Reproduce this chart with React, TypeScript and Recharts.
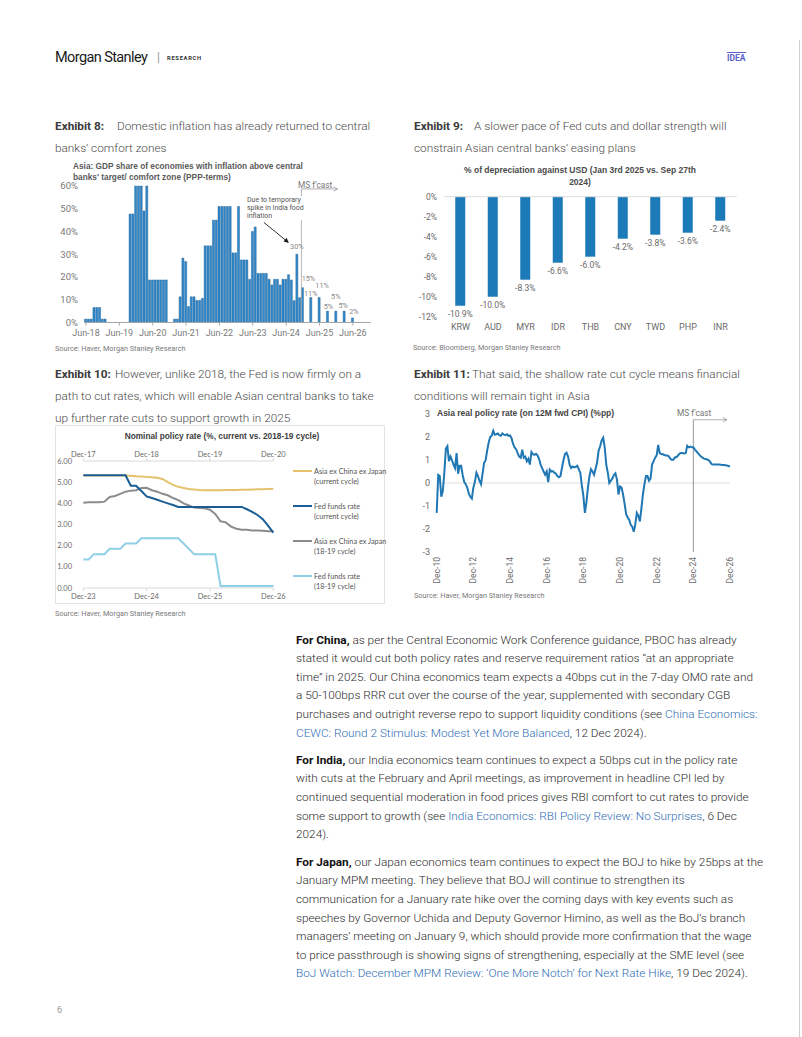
import React from 'react';
import { BarChart, Bar, LineChart, Line, XAxis, YAxis, ReferenceLine, LabelList } from 'recharts';

const MON = ['Jan', 'Feb', 'Mar', 'Apr', 'May', 'Jun', 'Jul', 'Aug', 'Sep', 'Oct', 'Nov', 'Dec'];
function monthSeq(startYear: number, startMonth: number, count: number): string[] {
  const out: string[] = [];
  for (let i = 0; i < count; i++) {
    const t = startMonth + i;
    const yr = startYear + Math.floor(t / 12);
    out.push(MON[t % 12] + '-' + String(yr % 100).padStart(2, '0'));
  }
  return out;
}

// ---------------- Exhibit 8 data ----------------
const EX8_MONTHS = monthSeq(2018, 5, 103);
const EX8_TICKS = ['Jun-18', 'Jun-19', 'Jun-20', 'Jun-21', 'Jun-22', 'Jun-23', 'Jun-24', 'Jun-25', 'Jun-26'];
const EX8_Y_TICKS = [0, 10, 20, 30, 40, 50, 60];
const EX8_SHARE: (number | null)[] = [
  1.5, 1.5, 1.5, 6.6, 6.6, 6.6, 1.5, 1.5, 0, 0,
  0, 0, 0, 0, 0, 0, 47.7, 47.7, 60, 60,
  60, 49, 60, 18.7, 18.7, 18.7, 18.7, 18.7, 18.7, 18.7,
  0, 0, 1.5, 1.5, 11.3, 28.3, 26.8, 7, 11.3, 11.3,
  9.7, 9.7, 10.6, 33.7, 33.7, 33.7, 45, 45, 51, 51,
  51, 51, 51, 30.6, 30.6, 51, 27.5, 27.5, 27.5, 19,
  40, 42, 21.6, 21.6, 21.6, 21.6, 19, 16.5, 19, 19,
  16.5, 19, 19, 21, 18.7, 9.6, 30, 10.9, 15.3, null,
  null, 11, null, null, 11, null, null, 5, null, null,
  5, null, null, 5, null, null, 2, null, null, 0,
  null, null, null,
];
const EX8_LABELS: Record<string, string> = {
  'Oct-24': '30%', 'Dec-24': '15%', 'Mar-25': '11%', 'Jun-25': '11%', 'Sep-25': '5%',
  'Dec-25': '5%', 'Mar-26': '5%', 'Jun-26': '2%', 'Sep-26': '0%',
};
// label nudges (style only)
const EX8_LABEL_NUDGE: Record<string, [number, number]> = {
  'Oct-24': [0, -8], 'Dec-24': [6, -9], 'Mar-25': [0, -4], 'Jun-25': [3, -12], 'Sep-25': [1, -5],
  'Dec-25': [0, -14.5], 'Mar-26': [-1, -6], 'Jun-26': [1.5, -6], 'Sep-26': [3.5, -7.5],
};

// ---------------- Exhibit 9 data ----------------
const EX9_CURRENCIES = ['KRW', 'AUD', 'MYR', 'IDR', 'THB', 'CNY', 'TWD', 'PHP', 'INR'];
const EX9_DEPRECIATION = [-10.9, -10.0, -8.3, -6.6, -6.0, -4.2, -3.8, -3.6, -2.4];
const EX9_Y_TICKS = [0, -2, -4, -6, -8, -10, -12];

// ---------------- Exhibit 10 data ----------------
const EX10_TOP_MONTHS = monthSeq(2017, 11, 37);
const EX10_BOTTOM_MONTHS = monthSeq(2023, 11, 37);
const EX10_TOP_TICKS = ['Dec-17', 'Dec-18', 'Dec-19', 'Dec-20'];
const EX10_BOTTOM_TICKS = ['Dec-23', 'Dec-24', 'Dec-25', 'Dec-26'];
const EX10_Y_TICKS = [0, 1, 2, 3, 4, 5, 6];
const EX10_ASIA_CURRENT = [
  5.32, 5.32, 5.32, 5.32, 5.32, 5.32, 5.32, 5.32, 5.32, 5.3,
  5.28, 5.27, 5.25, 5.23, 5.21, 5.15, 5.0, 4.87, 4.78, 4.72,
  4.68, 4.65, 4.63, 4.62, 4.62, 4.62, 4.62, 4.63, 4.63, 4.63,
  4.64, 4.64, 4.65, 4.66, 4.67, 4.68, 4.69,
];
const EX10_FED_CURRENT = [
  5.33, 5.33, 5.33, 5.33, 5.33, 5.33, 5.33, 5.33, 5.33, 4.83,
  4.83, 4.58, 4.33, 4.25, 4.17, 4.08, 4.0, 3.92, 3.83, 3.83,
  3.83, 3.83, 3.83, 3.83, 3.83, 3.83, 3.83, 3.83, 3.83, 3.83,
  3.83, 3.72, 3.6, 3.45, 3.25, 2.95, 2.62,
];
const EX10_ASIA_1819 = [
  4.03, 4.05, 4.05, 4.05, 4.08, 4.3, 4.35, 4.45, 4.55, 4.6,
  4.62, 4.72, 4.73, 4.62, 4.55, 4.45, 4.38, 4.25, 4.15, 4.0,
  3.9, 3.8, 3.78, 3.77, 3.7, 3.5, 3.15, 3.1, 2.9, 2.8,
  2.75, 2.75, 2.72, 2.72, 2.7, 2.68, 2.68,
];
const EX10_FED_1819 = [
  1.35, 1.35, 1.6, 1.6, 1.6, 1.85, 1.85, 1.85, 2.1, 2.1,
  2.1, 2.35, 2.35, 2.35, 2.35, 2.35, 2.35, 2.35, 2.35, 2.1,
  1.85, 1.6, 1.6, 1.6, 1.6, 1.6, 0.1, 0.1, 0.1, 0.1,
  0.1, 0.1, 0.1, 0.1, 0.1, 0.1, 0.1,
];
const EX10_SERIES = [
  { key: 'asiaCur', name1: 'Asia ex China ex Japan', name2: '(current cycle)', color: '#E3C26B' },
  { key: 'fedCur', name1: 'Fed funds rate', name2: '(current cycle)', color: '#1B5E96' },
  { key: 'asia1819', name1: 'Asia ex China ex Japan', name2: '(18-19 cycle)', color: '#8C8C8C' },
  { key: 'fed1819', name1: 'Fed funds rate', name2: '(18-19 cycle)', color: '#8FCFE6' },
];

// ---------------- Exhibit 11 data ----------------
const EX11_MONTHS = monthSeq(2010, 11, 193);
const EX11_TICKS = ['Dec-10', 'Dec-12', 'Dec-14', 'Dec-16', 'Dec-18', 'Dec-20', 'Dec-22', 'Dec-24', 'Dec-26'];
const EX11_Y_TICKS = [-3, -2, -1, 0, 1, 2, 3];
const EX11_REAL_RATE = [
  -1.3, 0.35, 0.3, -0.6, -0.35, 0.45, 1.5, 1.6, 0.95, 1.15,
  1.0, 0.8, 0.65, 1.3, 0.4, 0.75, 0.75, 0.35, 0.05, -0.05,
  -0.2, -0.45, -0.6, -0.68, -0.2, 0.05, 0.45, 0.3, 0.1, -0.05,
  0.4, 0.87, 0.98, 1.4, 1.75, 2.0, 2.05, 2.27, 2.1, 2.12,
  2.15, 2.08, 2.05, 2.15, 2.1, 2.08, 2.12, 2.05, 2.07, 1.95,
  1.7, 1.55, 1.47, 1.3, 1.15, 1.1, 1.45, 1.1, 1.15, 0.94,
  1.05, 0.8, 1.35, 1.25, 1.22, 1.27, 1.2, 1.05, 0.8, 0.65,
  0.5, 0.36, 0.5, 0.04, 0.58, 0.5, 0.52, 0.45, 0.4, 0.3,
  0.25, 0.3, 0.65, 1.0, 1.26, 1.32, 1.15, 0.8, 0.65, 0.72,
  0.68, 0.7, 0.75, 0.6, 0.45, -0.1, -0.55, -1.3, -0.85, -0.2,
  0.3, 0.6, 0.5, 0.36, 0.62, 0.9, 1.4, 1.6, 1.85, 1.97,
  1.55, 0.8, 0.45, 0.0, 0.1, 0.2, 0.35, 0.42, 0.15, -0.5,
  -0.15, -0.2, -0.5, -0.9, -1.35, -1.5, -1.6, -1.82, -1.9, -2.12,
  -1.8, -1.3, -1.42, -1.67, -1.1, -0.5, -0.05, 0.3, 0.3, 0.1,
  0.2, 0.8, 0.95, 1.1, 1.2, 1.66, 1.3, 1.26, 1.25, 1.22,
  1.2, 1.2, 1.15, 1.05, 1.0, 1.02, 1.12, 1.12, 1.2, 1.28,
  1.3, 1.3, 1.28, 1.3, 1.62, 1.55, 1.58, 1.55, 1.55, 1.45,
  1.38, 1.3, 1.22, 1.15, 1.1, 1.06, 1.04, 1.02, 1.0, 0.92,
  0.82, 0.8, 0.8, 0.8, 0.8, 0.8, 0.79, 0.78, 0.78, 0.77,
  0.76, 0.74, 0.72,
];

// ---------------- Body text ----------------
type Seg = [string, '' | 'b' | 'l'];
const PARA_CHINA: Seg[][] = [
  [['For China,', 'b'], [' as per the Central Economic Work Conference guidance, PBOC has already', '']],
  [['stated it would cut both policy rates and reserve requirement ratios \u201cat an appropriate', '']],
  [['time\u201d in 2025. Our China economics team expects a 40bps cut in the 7-day OMO rate and', '']],
  [['a 50-100bps RRR cut over the course of the year, supplemented with secondary CGB', '']],
  [['purchases and outright reverse repo to support liquidity conditions (see ', ''], ['China Economics:', 'l']],
  [['CEWC: Round 2 Stimulus: Modest Yet More Balanced', 'l'], [', 12 Dec 2024).', '']],
];
const PARA_INDIA: Seg[][] = [
  [['For India,', 'b'], [' our India economics team continues to expect a 50bps cut in the policy rate', '']],
  [['with cuts at the February and April meetings, as improvement in headline CPI led by', '']],
  [['continued sequential moderation in food prices gives RBI comfort to cut rates to provide', '']],
  [['some support to growth (see ', ''], ['India Economics: RBI Policy Review: No Surprises', 'l'], [', 6 Dec', '']],
  [['2024).', '']],
];
const PARA_JAPAN: Seg[][] = [
  [['For Japan,', 'b'], [' our Japan economics team continues to expect the BOJ to hike by 25bps at the', '']],
  [['January MPM meeting. They believe that BOJ will continue to strengthen its', '']],
  [['communication for a January rate hike over the coming days with key events such as', '']],
  [['speeches by Governor Uchida and Deputy Governor Himino, as well as the BoJ\u2019s branch', '']],
  [['managers\u2019 meeting on January 9, which should provide more confirmation that the wage', '']],
  [['to price passthrough is showing signs of strengthening, especially at the SME level (see', '']],
  [['BoJ Watch: December MPM Review: \u2018One More Notch\u2019 for Next Rate Hike', 'l'], [', 19 Dec 2024).', '']],
];

// ---------------- styling ----------------
const UI = 'Roboto, "Liberation Sans", Arial, sans-serif';
const ARIAL = '"Liberation Sans", Arial, sans-serif';
const LATO = 'Lato, "Liberation Sans", Arial, sans-serif';
const BAR_BLUE = '#3089CB';
const BAR_EDGE = '#1F6098';
const LINE_BLUE = '#1F77B4';

const ArrowShape = (props: any) => {
  const { x1, y1, x2, y2 } = props;
  const color = props.arrowColor || '#888';
  if ([x1, y1, x2, y2].some((v) => typeof v !== 'number' || isNaN(v))) return null;
  const ang = Math.atan2(y2 - y1, x2 - x1);
  const L = props.headLen || 5;
  const W = props.headW || 2.6;
  const bx = x2 - L * Math.cos(ang);
  const by = y2 - L * Math.sin(ang);
  const p1 = `${bx + W * Math.sin(ang)},${by - W * Math.cos(ang)}`;
  const p2 = `${bx - W * Math.sin(ang)},${by + W * Math.cos(ang)}`;
  return (
    <g>
      <line x1={x1} y1={y1} x2={props.open ? x2 : bx} y2={props.open ? y2 : by} stroke={color} strokeWidth={props.lw || 0.8} />
      {props.open ? (
        <polyline points={`${p1} ${x2},${y2} ${p2}`} fill="none" stroke={color} strokeWidth={0.8} />
      ) : (
        <polygon points={`${p1} ${x2},${y2} ${p2}`} fill={color} />
      )}
    </g>
  );
};

const Txt = (p: { x: number; y: number; size: number; color?: string; weight?: number; family?: string; anchor?: 'start' | 'middle'; children: React.ReactNode; lh?: number; style?: React.CSSProperties }) => {
  const lh = p.lh || Math.round(p.size * 1.3);
  const base: React.CSSProperties = {
    position: 'absolute',
    top: p.y - lh / 2,
    lineHeight: `${lh}px`,
    fontSize: p.size,
    color: p.color || '#333',
    fontWeight: p.weight || 400,
    fontFamily: p.family || UI,
    whiteSpace: 'nowrap',
    ...(p.style || {}),
  };
  if (p.anchor === 'middle') {
    return <div style={{ ...base, left: p.x - 300, width: 600, textAlign: 'center' }}>{p.children}</div>;
  }
  return <div style={{ ...base, left: p.x }}>{p.children}</div>;
};

const ExhibitTitle = ({ x, y, label, tabX, lines }: { x: number; y: number; label: string; tabX: number; lines: string[] }) => (
  <>
    <Txt x={x} y={y} size={11.8} weight={700} color="#3a3a3a">{label}</Txt>
    <Txt x={tabX} y={y} size={11.8} weight={300} color="#4a4a4a">{lines[0]}</Txt>
    {lines.slice(1).map((l, i) => (
      <Txt key={i} x={x} y={y + 22 * (i + 1)} size={11.8} weight={300} color="#4a4a4a">{l}</Txt>
    ))}
  </>
);

const Paragraph = ({ x, y, lines, lh }: { x: number; y: number; lines: Seg[][]; lh: number }) => (
  <>
    {lines.map((line, i) => (
      <Txt key={i} x={x} y={y + i * lh} size={11.8} weight={300} color="#2b2b2b">
        {line.map(([t, s], j) => (
          <span key={j} style={s === 'b' ? { fontWeight: 700, color: '#111' } : s === 'l' ? { color: '#2F6DB5' } : undefined}>{t}</span>
        ))}
      </Txt>
    ))}
  </>
);

// ---------------- Exhibit 8 chart ----------------
const ex8Data = EX8_MONTHS.map((m, i) => ({ m, v: EX8_SHARE[i], lblKey: EX8_LABELS[m] ? m : undefined }));

const Ex8Label = (p: any) => {
  const { x, y, width, value } = p;
  if (!value || !EX8_LABELS[value]) return null;
  const [dx, dy] = EX8_LABEL_NUDGE[value] || [0, -6];
  return (
    <text x={x + width / 2 + dx} y={y + dy} textAnchor="middle" dominantBaseline="central" fontSize={7.3} fill="#8a8a8a" fontFamily={UI}>
      {EX8_LABELS[value]}
    </text>
  );
};

const Exhibit8Chart = () => (
  <BarChart width={330} height={190} data={ex8Data} margin={{ top: 26, right: 14.1, bottom: 0, left: 0 }} barCategoryGap={0}>
    <XAxis dataKey="m" ticks={EX8_TICKS} interval={0} height={27.5} tickSize={3} tickMargin={4}
      axisLine={{ stroke: '#a6a6a6' }} tickLine={{ stroke: '#a6a6a6' }}
      tick={{ fontSize: 9, fill: '#7a7a7a', fontFamily: UI }} />
    <YAxis domain={[0, 60]} ticks={EX8_Y_TICKS} tickFormatter={(v: number) => `${v}%`} width={29.6}
      axisLine={false} tickLine={false} tickSize={0} tickMargin={6.6}
      tick={{ fontSize: 9.5, fill: '#7a7a7a', fontFamily: UI }} />
    <Bar dataKey="v" fill={BAR_BLUE} stroke={BAR_EDGE} strokeWidth={0.45} barSize={2.05} isAnimationActive={false}>
      <LabelList dataKey="lblKey" content={Ex8Label} />
    </Bar>
    <ReferenceLine segment={[{ x: 'Nov-24', y: 0 }, { x: 'Nov-24', y: 58.7 }]} position="end" stroke="#a6a6a6" strokeWidth={0.8} ifOverflow="visible" />
    <ReferenceLine segment={[{ x: 'Nov-24', y: 58.7 }, { x: 'Dec-25', y: 58.7 }]} position="end" ifOverflow="visible"
      shape={(p: any) => <ArrowShape {...p} arrowColor="#9a9a9a" open headLen={4} headW={2.2} />} />
    <ReferenceLine segment={[{ x: 'Oct-23', y: 44 }, { x: 'Jul-24', y: 35 }]} ifOverflow="visible"
      shape={(p: any) => <ArrowShape {...p} arrowColor="#1a1a1a" headLen={5} headW={2.4} lw={0.9} />} />
  </BarChart>
);

// ---------------- Exhibit 9 chart ----------------
const ex9Data = EX9_CURRENCIES.map((c, i) => ({ c, v: EX9_DEPRECIATION[i] }));
const Ex9Label = (p: any) => {
  const { x, y, width, height, value } = p;
  if (value == null) return null;
  const bottom = Math.max(y, y + height);
  return (
    <text x={x + width / 2} y={bottom + 8} textAnchor="middle" dominantBaseline="central" fontSize={8.5} fill="#6a6a6a" fontFamily={UI}>
      {`${Number(value).toFixed(1)}%`}
    </text>
  );
};
const Exhibit9Chart = () => (
  <BarChart width={340} height={150} data={ex9Data} margin={{ top: 8.7, right: 13.25, bottom: 0, left: 0 }}>
    <ReferenceLine y={0} stroke="#dcdcdc" strokeWidth={1} />
    <XAxis dataKey="c" interval={0} height={21.3} tickSize={0} tickMargin={7} axisLine={false} tickLine={false}
      tick={{ fontSize: 9, fill: '#6a6a6a', fontFamily: UI }} />
    <YAxis domain={[-12, 0]} ticks={EX9_Y_TICKS} tickFormatter={(v: number) => `${v}%`} width={34.25}
      axisLine={false} tickLine={false} tickSize={0} tickMargin={7.25}
      tick={{ fontSize: 8.5, fill: '#6a6a6a', fontFamily: UI }} />
    <Bar dataKey="v" fill="#1D7AB8" barSize={10} isAnimationActive={false}>
      <LabelList dataKey="v" content={Ex9Label} />
    </Bar>
  </BarChart>
);

// ---------------- Exhibit 10 chart ----------------
const ex10Data = EX10_BOTTOM_MONTHS.map((m, i) => ({
  bottom: m,
  top: EX10_TOP_MONTHS[i],
  asiaCur: EX10_ASIA_CURRENT[i],
  fedCur: EX10_FED_CURRENT[i],
  asia1819: EX10_ASIA_1819[i],
  fed1819: EX10_FED_1819[i],
}));
const Exhibit10Chart = () => (
  <LineChart width={235} height={165} data={ex10Data} margin={{ top: 0, right: 16.7, bottom: 0, left: 0 }}>
    <XAxis xAxisId="top" orientation="top" dataKey="top" ticks={EX10_TOP_TICKS} interval={0} height={21}
      tickSize={3} tickMargin={1.5} axisLine={{ stroke: '#d9d9d9' }} tickLine={{ stroke: '#d9d9d9' }}
      tick={{ fontSize: 7.5, fill: '#6a6a6a', fontFamily: LATO }} />
    <XAxis xAxisId="bottom" orientation="bottom" dataKey="bottom" ticks={EX10_BOTTOM_TICKS} interval={0} height={17}
      tickSize={3} tickMargin={3} axisLine={{ stroke: '#d9d9d9' }} tickLine={{ stroke: '#d9d9d9' }}
      tick={{ fontSize: 7.5, fill: '#6a6a6a', fontFamily: LATO }} />
    <YAxis domain={[0, 6]} ticks={EX10_Y_TICKS} tickFormatter={(v: number) => v.toFixed(2)} width={28.3}
      axisLine={false} tickLine={false} tickSize={0} tickMargin={11.3}
      tick={{ fontSize: 7.5, fill: '#6a6a6a', fontFamily: LATO }} />
    <Line xAxisId="top" dataKey="fed1819" stroke={EX10_SERIES[3].color} strokeWidth={2} dot={false} isAnimationActive={false} />
    <Line xAxisId="top" dataKey="asia1819" stroke={EX10_SERIES[2].color} strokeWidth={2} dot={false} isAnimationActive={false} />
    <Line xAxisId="bottom" dataKey="asiaCur" stroke={EX10_SERIES[0].color} strokeWidth={2} dot={false} isAnimationActive={false} />
    <Line xAxisId="bottom" dataKey="fedCur" stroke={EX10_SERIES[1].color} strokeWidth={2} dot={false} isAnimationActive={false} />
  </LineChart>
);

// ---------------- Exhibit 11 chart ----------------
const ex11Data = EX11_MONTHS.map((m, i) => ({ m, v: EX11_REAL_RATE[i] }));
const RotTick = (p: any) => {
  const { x, y, payload } = p;
  return (
    <text x={x} y={y} transform={`rotate(-90 ${x} ${y})`} textAnchor="end" dominantBaseline="central" fontSize={8.5} fill="#6a6a6a" fontFamily={UI}>
      {payload.value}
    </text>
  );
};
const Exhibit11Chart = () => (
  <LineChart width={340} height={190} data={ex11Data} margin={{ top: 9, right: 20, bottom: 0, left: 0 }}>
    <XAxis dataKey="m" ticks={EX11_TICKS} interval={0} height={43} tickSize={0} tickMargin={5}
      axisLine={false} tickLine={false} tick={<RotTick />} />
    <YAxis domain={[-3, 3]} ticks={EX11_Y_TICKS} width={26.7} axisLine={false} tickLine={false}
      tickSize={0} tickMargin={6.7} tick={{ fontSize: 9, fill: '#6a6a6a', fontFamily: UI }} />
    <ReferenceLine y={0} stroke="#dedede" strokeWidth={1} />
    <ReferenceLine segment={[{ x: 'Dec-24', y: -3 }, { x: 'Dec-24', y: 2.75 }]} stroke="#8c8c8c" strokeWidth={0.9} ifOverflow="visible" />
    <ReferenceLine segment={[{ x: 'Dec-24', y: 2.75 }, { x: 'Oct-26', y: 2.75 }]} ifOverflow="visible"
      shape={(p: any) => <ArrowShape {...p} arrowColor="#9a9a9a" open headLen={4} headW={2.2} />} />
    <Line dataKey="v" stroke={LINE_BLUE} strokeWidth={2} dot={false} isAnimationActive={false} />
  </LineChart>
);

export default function App() {
  const pos = (x: number, y: number): React.CSSProperties => ({ position: 'absolute', left: x, top: y });
  return (
    <div style={{ position: 'absolute', left: 0, top: 0, width: 802, height: 1037, background: '#fff', overflow: 'hidden', fontFamily: UI }}>
      {/* header */}
      <Txt x={55} y={57} size={14.5} color="#1a1a1a" style={{ letterSpacing: -0.6 }}>Morgan Stanley</Txt>
      <Txt x={157} y={57} size={12} color="#9a9a9a">|</Txt>
      <Txt x={167} y={57.5} size={5.8} weight={700} color="#333" style={{ letterSpacing: 0.7 }}>RESEARCH</Txt>
      <div style={{ position: 'absolute', left: 727, top: 51.5, width: 19, height: 1.5, background: '#5B5FC7' }} />
      <Txt x={727} y={58.5} size={8.5} weight={700} color="#5B5FC7">IDEA</Txt>
      <div style={{ position: 'absolute', left: 799, top: 40, width: 1, height: 997, background: '#cfcfcf' }} />

      {/* Exhibit 8 */}
      <ExhibitTitle x={55} y={126} label="Exhibit 8:" tabX={117} lines={['Domestic inflation has already returned to central', 'banks\u2019 comfort zones']} />
      <Txt x={73} y={166.5} size={8.3} weight={700} color="#5a5a5a" family={ARIAL}>Asia: GDP share of economies with inflation above central</Txt>
      <Txt x={73} y={177} size={8.3} weight={700} color="#5a5a5a" family={ARIAL}>banks&apos; target/ comfort zone (PPP-terms)</Txt>
      <div style={pos(55, 160)}><Exhibit8Chart /></div>
      <div style={{ position: 'absolute', left: 246, top: 195.5, background: '#fff', fontSize: 7, lineHeight: '8.3px', color: '#555', fontFamily: UI, whiteSpace: 'nowrap', padding: '0 1px' }}>
        Due to temporary<br />spike in India food<br />inflation
      </div>
      <Txt x={298} y={185} size={8.3} color="#777">MS f&apos;cast</Txt>
      <Txt x={55} y={348.5} size={7.3} color="#7a7a7a">Source: Haver, Morgan Stanley Research</Txt>

      {/* Exhibit 9 */}
      <ExhibitTitle x={414} y={126} label="Exhibit 9:" tabX={474} lines={['A slower pace of Fed cuts and dollar strength will', 'constrain Asian central banks\u2019 easing plans']} />
      <Txt x={580} y={170} size={8.5} weight={700} color="#4a4a4a" family={ARIAL} anchor="middle">% of depreciation against USD (Jan 3rd 2025 vs. Sep 27th</Txt>
      <Txt x={580} y={182} size={8.5} weight={700} color="#4a4a4a" family={ARIAL} anchor="middle">2024)</Txt>
      <div style={pos(410, 188)}><Exhibit9Chart /></div>
      <Txt x={413} y={347.5} size={7.3} color="#7a7a7a">Source: Bloomberg, Morgan Stanley Research</Txt>

      {/* Exhibit 10 */}
      <ExhibitTitle x={55} y={374} label="Exhibit 10:" tabX={115} lines={['However, unlike 2018, the Fed is now firmly on a', 'path to cut rates, which will enable Asian central banks to take', 'up further rate cuts to support growth in 2025']} />
      <div style={{ position: 'absolute', left: 55, top: 425, width: 330, height: 179, border: '1px solid #e3e3e3', boxSizing: 'border-box' }} />
      <Txt x={222} y={436.5} size={8.3} weight={700} color="#404040" family={ARIAL} anchor="middle">Nominal policy rate (%, current vs. 2018-19 cycle)</Txt>
      <div style={pos(55, 440)}><Exhibit10Chart /></div>
      {EX10_SERIES.map((s, i) => (
        <React.Fragment key={s.key}>
          <div style={{ position: 'absolute', left: 293, top: 471 + 35 * i - 1, width: 19, height: 2, background: s.color }} />
          <Txt x={314} y={471 + 35 * i} size={7.3} color="#555" family={LATO}>{s.name1}</Txt>
          <Txt x={314} y={481 + 35 * i} size={7.3} color="#555" family={LATO}>{s.name2}</Txt>
        </React.Fragment>
      ))}
      <Txt x={55} y={613} size={7.3} color="#7a7a7a">Source: Haver, Morgan Stanley Research</Txt>

      {/* Exhibit 11 */}
      <ExhibitTitle x={414} y={374} label="Exhibit 11:" tabX={472} lines={['That said, the shallow rate cut cycle means financial', 'conditions will remain tight in Asia']} />
      <Txt x={437} y={413} size={8.5} weight={700} color="#444" family={ARIAL}>Asia real policy rate (on 12M fwd CPI) (%pp)</Txt>
      <div style={pos(410, 405)}><Exhibit11Chart /></div>
      <Txt x={677} y={413} size={8.3} color="#777">MS f&apos;cast</Txt>
      <Txt x={414} y={595.5} size={7.3} color="#7a7a7a">Source: Haver, Morgan Stanley Research</Txt>

      {/* Body text */}
      <Paragraph x={296} y={640} lines={PARA_CHINA} lh={18.6} />
      <Paragraph x={296} y={760.3} lines={PARA_INDIA} lh={18.6} />
      <Paragraph x={296} y={862.3} lines={PARA_JAPAN} lh={18.6} />

      <Txt x={57} y={1010} size={9} color="#9a9a9a">6</Txt>
    </div>
  );
}
